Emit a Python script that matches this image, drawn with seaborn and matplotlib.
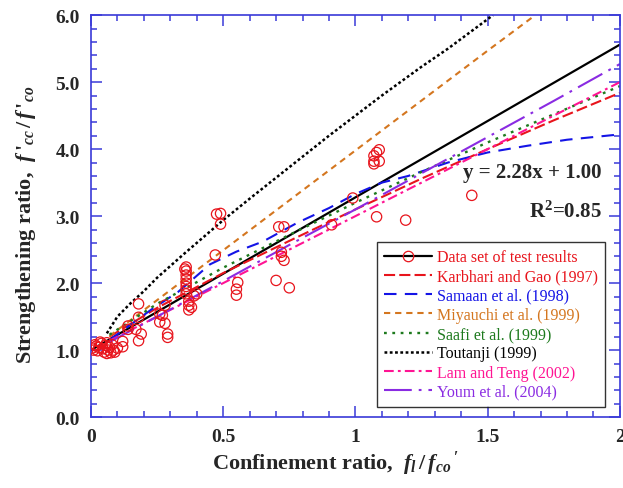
import matplotlib
matplotlib.use('Agg')
import matplotlib.pyplot as plt
import matplotlib.ticker as mticker
from matplotlib.lines import Line2D
import seaborn as sns

# test data (confinement ratio, strengthening ratio)
test_x = [0.005, 0.01, 0.02, 0.025, 0.03, 0.04, 0.045, 0.05, 0.055, 0.06, 0.065, 0.07, 0.075,
          0.08, 0.085, 0.09, 0.10, 0.035, 0.015, 0.06, 0.12, 0.12,
          0.14, 0.14, 0.17, 0.18, 0.18, 0.19, 0.18,
          0.26, 0.26, 0.28, 0.28, 0.29, 0.29, 0.27,
          0.36, 0.36, 0.36, 0.36, 0.36, 0.36, 0.36, 0.36, 0.37, 0.37, 0.38, 0.37, 0.39, 0.40, 0.355,
          0.475, 0.49, 0.49, 0.47,
          0.555, 0.55, 0.55,
          0.71, 0.73, 0.72, 0.72, 0.73, 0.70, 0.75,
          0.91, 0.99,
          1.09, 1.08, 1.07, 1.07, 1.09, 1.07, 1.08, 1.19, 1.44]
test_y = [1.03, 1.00, 1.06, 0.99, 1.04, 1.10, 1.02, 0.97, 1.07, 1.11, 1.00, 1.04, 0.96,
          1.08, 1.00, 0.97, 1.03, 1.12, 1.08, 0.95, 1.13, 1.05,
          1.36, 1.31, 1.31, 1.69, 1.49, 1.24, 1.14,
          1.54, 1.42, 1.67, 1.40, 1.24, 1.19, 1.52,
          2.24, 2.18, 2.12, 2.06, 2.00, 1.95, 1.90, 1.84, 1.73, 1.67, 1.64, 1.60, 1.81, 1.84, 2.21,
          3.03, 3.04, 2.88, 2.42,
          2.01, 1.91, 1.82,
          2.84, 2.84, 2.46, 2.40, 2.34, 2.04, 1.93,
          2.87, 3.27,
          3.99, 3.95, 3.90, 3.82, 3.82, 3.78, 2.99, 2.94, 3.31]

# regression y = 2.28x + 1.00
fit_x = [0.0, 2.0]
fit_y = [1.00, 5.56]

# model curves
model_x = [0.07, 0.25, 0.5, 0.75, 1.0, 1.25, 1.5, 1.75, 2.0]
karbhari_y = [1.20, 1.63, 2.15, 2.63, 3.10, 3.56, 4.00, 4.43, 4.84]
saafi_y = [1.23, 1.69, 2.23, 2.72, 3.20, 3.66, 4.10, 4.52, 4.94]
lam_y = [1.14, 1.50, 2.00, 2.50, 3.00, 3.50, 4.00, 4.50, 5.00]
youm_y = [1.12, 1.50, 2.03, 2.57, 3.10, 3.64, 4.18, 4.72, 5.27]

samaan_x = [0.07, 0.15, 0.23, 0.33, 0.45, 0.55, 0.65, 0.78, 0.9, 1.0, 1.1, 1.2, 1.35, 1.5, 1.65, 1.8, 2.0]
samaan_y = [1.15, 1.38, 1.61, 1.87, 2.28, 2.47, 2.62, 2.90, 3.12, 3.33, 3.50, 3.60, 3.80, 3.95, 4.05, 4.14, 4.22]

miyauchi_x = [0.07, 0.5, 1.0, 1.5, 1.68]
miyauchi_y = [1.21, 2.49, 3.98, 5.47, 6.00]

toutanji_x = [0.06, 0.1, 0.15, 0.2, 0.25, 0.35, 0.5, 0.6, 0.75, 0.9, 1.0, 1.1, 1.25, 1.35, 1.5, 1.52]
toutanji_y = [1.25, 1.50, 1.70, 1.88, 2.08, 2.43, 2.94, 3.26, 3.73, 4.20, 4.50, 4.80, 5.23, 5.50, 5.94, 6.00]

sns.set_style('ticks')
plt.rcParams['font.family'] = ['Liberation Serif', 'DejaVu Serif']
plt.rcParams['mathtext.fontset'] = 'custom'
plt.rcParams['mathtext.rm'] = 'Liberation Serif:bold'
plt.rcParams['mathtext.it'] = 'Liberation Serif:italic:bold'
plt.rcParams['mathtext.bf'] = 'Liberation Serif:bold'
plt.rcParams['lines.scale_dashes'] = False

RED = '#e8141c'
BLUE = '#1414e6'
ORANGE = '#d4761f'
GREEN = '#1e7a1e'
PINK = '#ff1493'
PURPLE = '#8a2be2'
AXC = '#3a3ad8'

fig = plt.figure(figsize=(6.23, 4.89), dpi=100)
ax = fig.add_axes([0.146, 0.145, 0.849, 0.822])

models = [
    ('Karbhari and Gao (1997)', model_x, karbhari_y, RED, (8, 3), 1.5),
    ('Samaan et al. (1998)', samaan_x, samaan_y, BLUE, (9, 6), 1.5),
    ('Miyauchi et al. (1999)', miyauchi_x, miyauchi_y, ORANGE, (4.5, 3.5), 1.5),
    ('Saafi et al. (1999)', model_x, saafi_y, GREEN, (2, 4), 1.7),
    ('Toutanji (1999)', toutanji_x, toutanji_y, 'black', (2, 1.8), 1.8),
    ('Lam and Teng (2002)', model_x, lam_y, PINK, (7, 3, 2, 3), 1.5),
    ('Youm et al. (2004)', model_x, youm_y, PURPLE, (20, 5, 2, 5), 1.5),
]

handles = []
labels = []
sns.lineplot(x=fit_x, y=fit_y, ax=ax, color='black', linewidth=1.6, sort=False, estimator=None)
sns.scatterplot(x=test_x, y=test_y, ax=ax, marker='o', s=55, facecolors='none',
                edgecolor=RED, linewidth=0.9, zorder=3)
handles.append(Line2D([], [], color='black', lw=1.6, marker='o', ms=7.5,
                      mfc='none', mec=RED, mew=0.9))
labels.append('Data set of test results')

for name, xs, ys, c, d, lw in models:
    sns.lineplot(x=xs, y=ys, ax=ax, color=c, linewidth=lw, sort=False, estimator=None)
    ln = ax.lines[-1]
    ln.set_dashes(d)
    handles.append(Line2D([], [], color=c, lw=lw, dashes=d))
    labels.append(name)

ax.set_xlim(0, 2)
ax.set_ylim(0, 6)
ax.xaxis.set_major_locator(mticker.MultipleLocator(0.5))
ax.xaxis.set_minor_locator(mticker.MultipleLocator(0.1))
ax.yaxis.set_major_locator(mticker.MultipleLocator(1.0))
ax.yaxis.set_minor_locator(mticker.MultipleLocator(0.2))
ax.xaxis.set_major_formatter(mticker.FuncFormatter(lambda v, p: f'{v:g}'))
ax.yaxis.set_major_formatter(mticker.FormatStrFormatter('%.1f'))
ax.tick_params(which='both', direction='in', top=True, right=True, color=AXC, width=1.1)
ax.tick_params(which='major', length=8, labelsize=14, pad=8)
ax.tick_params(which='minor', length=4.5)
for lab in ax.get_xticklabels() + ax.get_yticklabels():
    lab.set_fontweight('bold')
for s in ax.spines.values():
    s.set_color(AXC)
    s.set_linewidth(1.2)

ax.set_xlabel(r"Confinement ratio,  $f_l\,/\,f_{co}\,'$", fontsize=16, fontweight='bold')
ax.set_ylabel(r"Strengthening ratio,  $f\,'_{cc}\,/\,f\,'_{co}$", fontsize=16, fontweight='bold')
ax.xaxis.set_label_coords(0.463, -0.08)
ax.yaxis.set_label_coords(-0.10, 0.48)

ax.text(1.932, 3.66, 'y = 2.28x + 1.00', fontsize=15, fontweight='bold', ha='right', va='center')
ax.text(1.932, 3.07, r'R$^\mathbf{2}$=0.85', fontsize=15, fontweight='bold', ha='right', va='center')

leg = ax.legend(handles, labels, loc='upper left', bbox_to_anchor=(0.541, 0.435),
                fontsize=11.5, frameon=True, fancybox=False, edgecolor='black',
                handlelength=3.0, handletextpad=0.3, labelspacing=0.2, borderpad=0.45,
                borderaxespad=0)
leg.get_frame().set_linewidth(1.0)
text_colors = [RED, RED, BLUE, ORANGE, GREEN, 'black', PINK, PURPLE]
for t, c in zip(leg.get_texts(), text_colors):
    t.set_color(c)

fig.savefig('out.png', dpi=100)
